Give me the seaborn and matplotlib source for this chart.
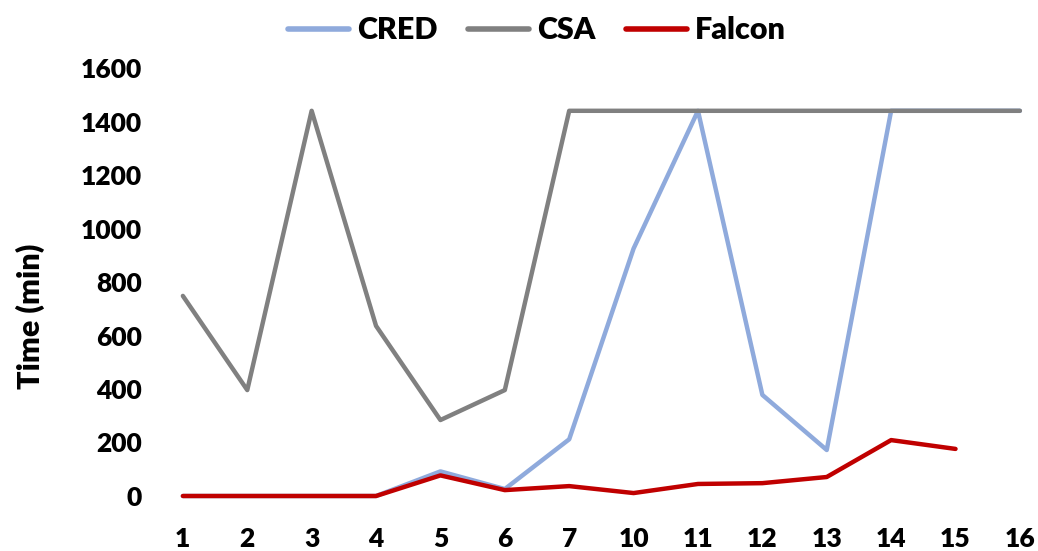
import numpy as np
import pandas as pd
import matplotlib
matplotlib.use("Agg")
import matplotlib.pyplot as plt
import seaborn as sns

# Benchmark instances and solver runtimes (minutes); 1440 = 24 h timeout
instances = ["1", "2", "3", "4", "5", "6", "7", "10", "11", "12", "13", "14", "15", "16"]
cred = [0, 0, 0, 0, 92, 26, 212, 925, 1440, 378, 172, 1440, 1440, 1440]
csa = [748, 396, 1440, 636, 284, 396, 1440, 1440, 1440, 1440, 1440, 1440, 1440, 1440]
falcon = [0, 0, 0, 0, 77, 22, 37, 11, 45, 48, 71, 209, 176, None]

series = {"CRED": cred, "CSA": csa, "Falcon": falcon}
colors = {"CRED": "#8FAADC", "CSA": "#808080", "Falcon": "#C00000"}

rows = []
for name, vals in series.items():
    for i, v in enumerate(vals):
        if v is not None:
            rows.append({"pos": i, "instance": instances[i], "solver": name, "time": v})
df = pd.DataFrame(rows)

sns.set_theme(style="white")
plt.rcParams["font.family"] = ["Lato", "DejaVu Sans"]
plt.rcParams["text.color"] = "black"
plt.rcParams["xtick.color"] = "black"
plt.rcParams["ytick.color"] = "black"
plt.rcParams["axes.labelcolor"] = "black"

fig = plt.figure(figsize=(10.38, 5.51), dpi=100)
ax = fig.add_axes([170 / 1038, 55 / 551, 866 / 1038, 428 / 551])

sns.lineplot(data=df, x="pos", y="time", hue="solver", palette=colors,
             hue_order=["CRED", "CSA", "Falcon"], linewidth=3.2, ax=ax,
             legend=False, sort=False)
for line in ax.lines:
    line.set_solid_capstyle("round")
    line.set_clip_on(False)

ax.set_xlim(-0.2, 13.25)
ax.set_ylim(0, 1600)
ax.set_xticks(range(len(instances)))
ax.set_xticklabels(instances)
ax.set_yticks(np.arange(0, 1601, 200))
ax.tick_params(axis="both", labelsize=19, length=0)
ax.tick_params(axis="x", pad=22)
ax.tick_params(axis="y", pad=20)
for lbl in ax.get_xticklabels() + ax.get_yticklabels():
    lbl.set_fontweight("heavy")
ax.set_xlabel("")
ax.set_ylabel("Time (min)", fontsize=22, fontweight="heavy")
ax.yaxis.set_label_coords(-125 / 866, 0.42)
sns.despine(ax=ax, left=True, bottom=True)
ax.grid(False)

handles = [plt.Line2D([], [], color=colors[k], linewidth=4, solid_capstyle="round") for k in series]
fig.legend(handles, list(series.keys()), loc="upper center", bbox_to_anchor=(537 / 1038, 1.02),
           ncol=3, frameon=False, handlelength=2.0, handletextpad=0.25, columnspacing=1.0,
           prop={"size": 22, "weight": "heavy"})

fig.savefig("out.png", dpi=100)
